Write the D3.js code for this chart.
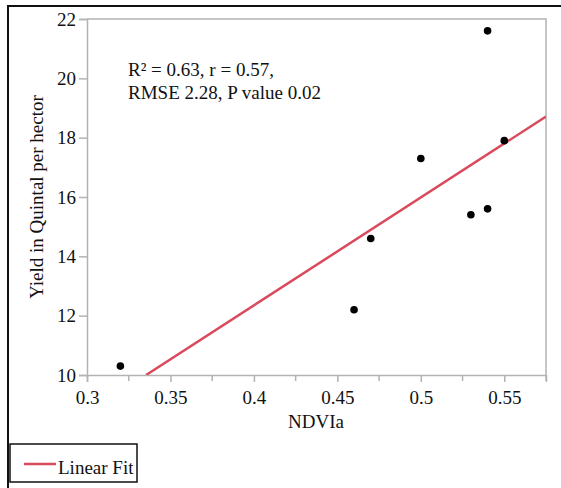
<!DOCTYPE html>
<html>
<head>
<meta charset="utf-8">
<script src="https://cdn.jsdelivr.net/npm/d3@7"></script>
<style>
  html, body { margin: 0; padding: 0; background: #fff; }
  svg { display: block; }
  text { font-family: "Liberation Serif", "Times New Roman", serif; fill: #111; }
</style>
</head>
<body>
<svg id="chart" width="561" height="488"></svg>
<script>
// Data
const ndvi = [0.32, 0.46, 0.47, 0.50, 0.53, 0.54, 0.54, 0.55];
const yieldQ = [10.3, 12.2, 14.6, 17.3, 15.4, 15.6, 21.6, 17.9];
const fitCoef = [-2.196, 36.36]; // intercept, slope
const xTicks = [0.3, 0.35, 0.4, 0.45, 0.5, 0.55];
const xMinor = [0.325, 0.375, 0.425, 0.475, 0.525, 0.575];
const yTicks = [10, 12, 14, 16, 18, 20, 22];
const statsLines = ["R\u00B2 = 0.63, r = 0.57,", "RMSE 2.28, P value 0.02"];
const legendLabels = ["Linear Fit"];

const svg = d3.select("#chart");
const gray = "#b3b3b3";
const red = "#da4a5d";
const fs = 19;

const x = d3.scaleLinear().domain([0.3, 0.575]).range([87, 546]);
const y = d3.scaleLinear().domain([10, 22]).range([375, 19]);

// Outer frame
svg.append("path")
  .attr("d", "M8,488 L8,6 L561,6")
  .attr("fill", "none").attr("stroke", "#111").attr("stroke-width", 2);

// Plot frame (top & right)
svg.append("path")
  .attr("d", `M${x.range()[0]},${y.range()[1]} L${x.range()[1]},${y.range()[1]} L${x.range()[1]},${y.range()[0]}`)
  .attr("fill", "none").attr("stroke", gray).attr("stroke-width", 1.5);

// X axis
const gx = svg.append("g").attr("transform", `translate(0,${y.range()[0]})`);
gx.call(d3.axisBottom(x).tickValues(xTicks).tickSize(7).tickPadding(9)
  .tickFormat(d => d3.format("")(+d.toFixed(3))));
gx.select(".domain").attr("stroke", gray).attr("stroke-width", 1.5);
gx.selectAll(".tick line").attr("stroke", gray).attr("stroke-width", 1.5);
gx.selectAll("text").attr("font-size", fs).attr("font-family", "Liberation Serif").attr("fill", "#111");
gx.selectAll(".minor").data(xMinor).enter().append("line")
  .attr("class", "minor")
  .attr("x1", d => x(d)).attr("x2", d => x(d))
  .attr("y1", 0).attr("y2", 6)
  .attr("stroke", gray).attr("stroke-width", 1.5);

// Y axis
const gy = svg.append("g").attr("transform", `translate(${x.range()[0]},0)`);
gy.call(d3.axisLeft(y).tickValues(yTicks).tickSize(8).tickPadding(3).tickFormat(d3.format("d")));
gy.select(".domain").attr("stroke", gray).attr("stroke-width", 1.5);
gy.selectAll(".tick line").attr("stroke", gray).attr("stroke-width", 1.5);
gy.selectAll("text").attr("font-size", fs).attr("font-family", "Liberation Serif").attr("fill", "#111");

// Axis titles
svg.append("text")
  .attr("x", 316).attr("y", 428)
  .attr("text-anchor", "middle").attr("font-size", fs)
  .text("NDVIa");
svg.append("text")
  .attr("transform", "translate(43,197) rotate(-90)")
  .attr("text-anchor", "middle").attr("font-size", fs)
  .text("Yield in Quintal per hector");

// Clip
svg.append("clipPath").attr("id", "plotclip")
  .append("rect").attr("x", x.range()[0]).attr("y", y.range()[1])
  .attr("width", x.range()[1] - x.range()[0]).attr("height", y.range()[0] - y.range()[1]);

// Fit line
const xStart = (y.domain()[0] - fitCoef[0]) / fitCoef[1];
const fitPts = [xStart, x.domain()[1]].map(v => [v, fitCoef[0] + fitCoef[1] * v]);
svg.append("path")
  .datum(fitPts)
  .attr("clip-path", "url(#plotclip)")
  .attr("d", d3.line().x(d => x(d[0])).y(d => y(d[1])))
  .attr("fill", "none").attr("stroke", red).attr("stroke-width", 2.5);

// Points
svg.append("g").selectAll("circle")
  .data(ndvi.map((v, i) => [v, yieldQ[i]]))
  .enter().append("circle")
  .attr("cx", d => x(d[0])).attr("cy", d => y(d[1]))
  .attr("r", 3.8).attr("fill", "#000");

// Stats annotation
svg.append("g").selectAll("text")
  .data(statsLines).enter().append("text")
  .attr("x", 128).attr("y", (d, i) => 76 + i * 23)
  .attr("font-size", fs)
  .text(d => d);

// Legend
const lg = svg.append("g");
lg.append("rect").attr("x", 10).attr("y", 444).attr("width", 127).attr("height", 38)
  .attr("fill", "#fff").attr("stroke", "#111").attr("stroke-width", 1.5);
lg.append("line").attr("x1", 24).attr("x2", 56).attr("y1", 464).attr("y2", 464)
  .attr("stroke", red).attr("stroke-width", 2.5);
lg.selectAll("text.lab").data(legendLabels).enter().append("text")
  .attr("class", "lab")
  .attr("x", 58).attr("y", 474).attr("font-size", fs)
  .text(d => d);
</script>
</body>
</html>
